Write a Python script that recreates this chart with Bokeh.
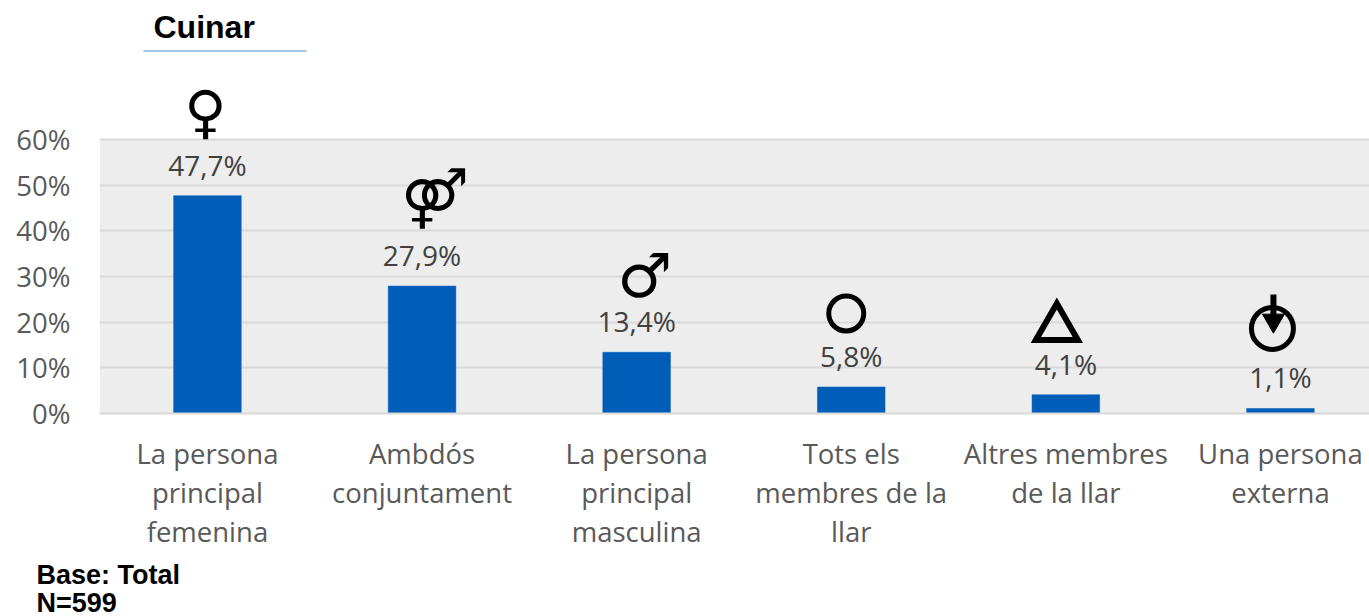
from bokeh.plotting import figure
from bokeh.models import Range1d, ColumnDataSource, FixedTicker, Title
from bokeh.core.properties import value
from bokeh.embed import file_html
from bokeh.resources import INLINE

title = "Cuinar"
categories = ["La persona\nprincipal\nfemenina", "Ambdós\nconjuntament", "La persona\nprincipal\nmasculina",
              "Tots els\nmembres de la\nllar", "Altres membres\nde la llar", "Una persona\nexterna"]
values = [47.7, 27.9, 13.4, 5.8, 4.1, 1.1]
labels = ["47,7%", "27,9%", "13,4%", "5,8%", "4,1%", "1,1%"]
gender_icons = ["♀", "⚤", "♂"]
y_ticks = [0, 10, 20, 30, 40, 50, 60]
footer = "Base: Total\nN=599"

GREY = "#595959"
FONT = "Open Sans"
W, H = 1369, 616
LEFT, TOP, BOTTOM = 99, 139, 413
X_MIN, X_MAX = -0.503, 5.415
Y_MAX = 60
PX_X = (W - LEFT) / (X_MAX - X_MIN)   # pixels per category
PX_Y = (BOTTOM - TOP) / Y_MAX         # pixels per percentage point
idx = list(range(len(values)))

# The frame reaches the top of the canvas so the title and the tallest icon are not clipped;
# the grey panel covers only the 0-60 % band.
p = figure(width=W, height=H, frame_width=W - LEFT, frame_height=BOTTOM,
           output_backend="svg", toolbar_location=None,
           x_range=Range1d(X_MIN, X_MAX), y_range=Range1d(0, BOTTOM / PX_Y),
           min_border_left=LEFT, min_border_right=0, min_border_top=0, min_border_bottom=H - BOTTOM,
           background_fill_color="white", border_fill_color="white", outline_line_color=None)

p.quad(left=[X_MIN], right=[X_MAX], bottom=[0], top=[Y_MAX], fill_color="#EDEDED", line_color=None, level="image")

p.xgrid.grid_line_color = None
p.ygrid.grid_line_color = "#D9D9D9"
p.ygrid.grid_line_width = 2
p.ygrid.level = "underlay"

p.yaxis.ticker = FixedTicker(ticks=y_ticks)
p.yaxis.major_label_overrides = {t: f"{t}%" for t in y_ticks}
p.yaxis.axis_line_color = None
p.yaxis.major_tick_line_color = None
p.yaxis.minor_tick_line_color = None
p.yaxis.major_label_text_font = FONT
p.yaxis.major_label_text_font_size = "27.5px"
p.yaxis.major_label_text_color = GREY
p.yaxis.major_label_standoff = 23

p.xaxis.ticker = FixedTicker(ticks=idx)
p.xaxis.major_label_overrides = dict(zip(idx, categories))
p.xaxis.axis_line_color = "#D9D9D9"
p.xaxis.axis_line_width = 2
p.xaxis.major_tick_line_color = None
p.xaxis.minor_tick_line_color = None
p.xaxis.major_label_text_font = FONT
p.xaxis.major_label_text_font_size = "27.5px"
p.xaxis.major_label_text_color = GREY
p.xaxis.major_label_text_line_height = 1.065
p.xaxis.major_label_standoff = 15

src = ColumnDataSource(dict(x=idx, top=values, label=labels))
p.vbar(x="x", top="top", bottom=0, width=0.315, source=src, fill_color="#005EB8", line_color="#005EB8", line_width=0.5)
p.text(x="x", y="top", text="label", source=src, text_font=value(FONT), text_font_size="28px",
       text_color="#404040", text_align="center", text_baseline="middle", y_offset=-31)

# Gender icons sit above the first three bars, as text
p.text(x=idx[:3], y=values[:3], text=gender_icons, x_offset=[-2, 13, 8], y_offset=[-83.5, -88, -77],
       text_font=value("DejaVu Sans"), text_font_size=["58px", "58px", "61px"], text_font_style="bold",
       text_color="black", text_align="center", text_baseline="middle")

# Circle, triangle and "external" arrow icons above the last three bars, as marks
def ix(i, dx):
    return i + dx / PX_X

def iy(i, dy):
    return values[i] + dy / PX_Y

p.scatter(x=[ix(3, -5)], y=[iy(3, 73.5)], marker="circle", size=35, fill_color=None, line_color="black", line_width=5)
p.scatter(x=[ix(4, -9)], y=[iy(4, 67)], marker="triangle", size=42, fill_color=None, line_color="black",
          line_width=6, line_join="miter")
p.scatter(x=[ix(5, -8)], y=[iy(5, 80)], marker="circle", size=42, fill_color=None, line_color="black", line_width=5)
p.segment(x0=[ix(5, -7)], y0=[iy(5, 114)], x1=[ix(5, -7)], y1=[iy(5, 88)], line_color="black", line_width=6)
p.scatter(x=[ix(5, -7)], y=[iy(5, 88)], marker="inverted_triangle", size=22, fill_color="black", line_color="black")

# Title and its rule, placed through the chart's own scales
def px_x(px):
    return X_MIN + (px - LEFT) / PX_X

def px_y(py):
    return (BOTTOM - py) / PX_Y

p.text(x=[px_x(153)], y=[px_y(26)], text=[title], text_font=value("Liberation Sans"), text_font_style="bold",
       text_font_size="32px", text_color="black", text_baseline="middle")
p.segment(x0=[px_x(143)], y0=[px_y(50.5)], x1=[px_x(306)], y1=[px_y(50.5)], line_color="#7FB2E5", line_width=1.5)

p.add_layout(Title(text=footer, text_font="Liberation Sans", text_font_style="bold", text_font_size="27px",
                   text_color="black", align="left", offset=36 - LEFT, standoff=7, text_line_height=0.95), "below")

open("out.html", "w").write(file_html(p, INLINE))
